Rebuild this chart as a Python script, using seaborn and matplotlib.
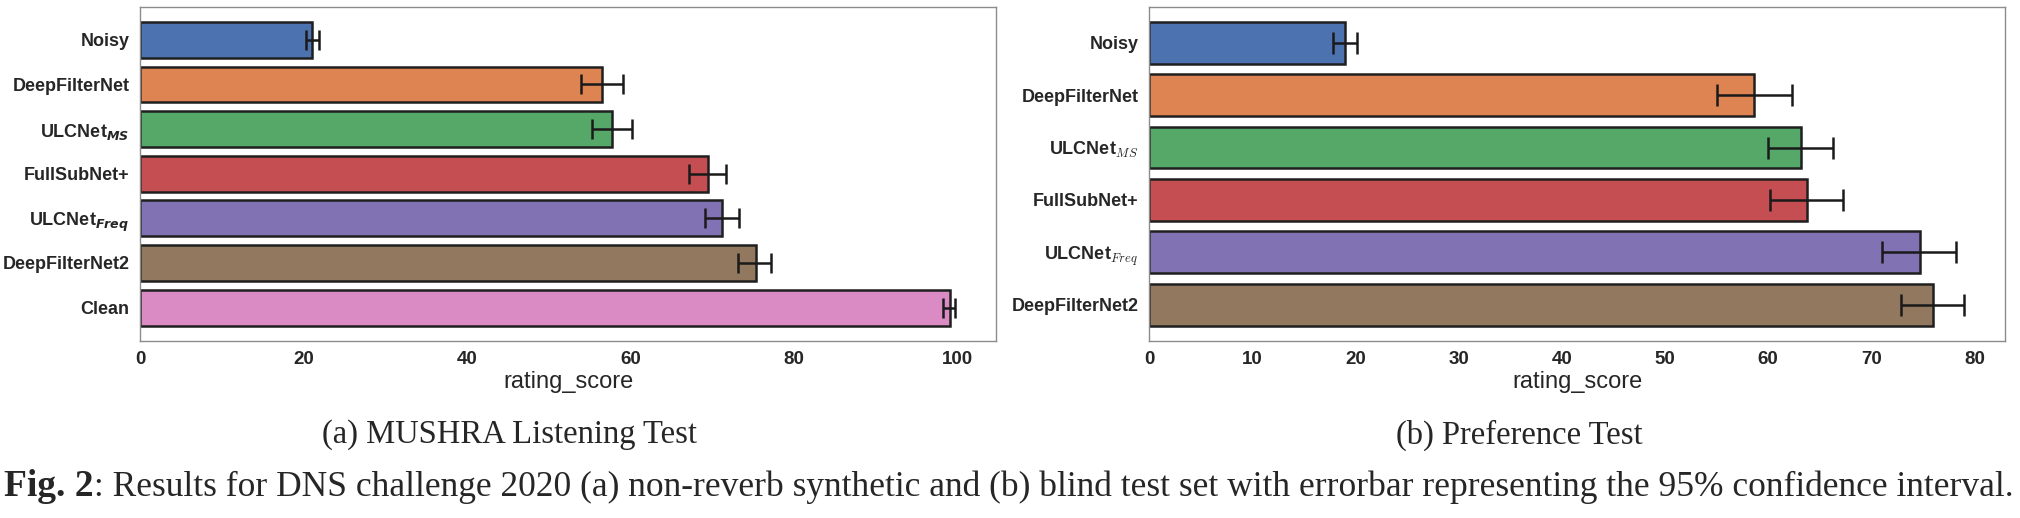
import numpy as np
import pandas as pd
import matplotlib
matplotlib.use("Agg")
import matplotlib.pyplot as plt
import seaborn as sns

# MUSHRA listening test (a)
mushra_systems = ["Noisy", "DeepFilterNet", r"ULCNet$_{\mathbfit{MS}}$", "FullSubNet+",
                  r"ULCNet$_{\mathbfit{Freq}}$", "DeepFilterNet2", "Clean"]
mushra_mean = [21.0, 56.5, 57.7, 69.4, 71.2, 75.3, 99.0]
mushra_lo = [20.3, 53.9, 55.3, 67.1, 69.1, 73.1, 98.2]
mushra_hi = [21.9, 59.1, 60.2, 71.7, 73.2, 77.2, 99.7]

# Preference test (b)
pref_systems = ["Noisy", "DeepFilterNet", r"ULCNet$_{MS}$", "FullSubNet+",
                r"ULCNet$_{Freq}$", "DeepFilterNet2"]
pref_mean = [18.95, 58.6, 63.2, 63.8, 74.7, 76.0]
pref_lo = [17.8, 55.0, 60.0, 60.2, 71.0, 72.9]
pref_hi = [20.2, 62.3, 66.3, 67.2, 78.2, 79.0]

sub_titles = ["(a) MUSHRA Listening Test", "(b) Preference Test"]
fig_label = "Fig. 2"
fig_caption = (": Results for DNS challenge 2020 (a) non-reverb synthetic and (b) blind test set "
               "with errorbar representing the 95% confidence interval.")

sns.set_style("white")
plt.rcParams["font.family"] = ["Liberation Sans", "DejaVu Sans"]
plt.rcParams["mathtext.fontset"] = "dejavusans"

fig = plt.figure(figsize=(20.2, 5.18), dpi=100)
ax_a = fig.add_axes([0.0693, 0.3423, 0.4238, 0.6448])
ax_b = fig.add_axes([0.5688, 0.3423, 0.4238, 0.6448])

panels = [
    (ax_a, mushra_systems, mushra_mean, mushra_lo, mushra_hi, 7, None),
    (ax_b, pref_systems, pref_mean, pref_lo, pref_hi, 8, "cm"),
]

for ax, systems, mean, lo, hi, cap, mathfam in panels:
    df = pd.DataFrame({"system": systems, "rating_score": mean})
    sns.barplot(data=df, x="rating_score", y="system", hue="system",
                palette="deep", saturation=1, legend=False, errorbar=None,
                edgecolor="0.12", linewidth=1.8, ax=ax)
    xerr = [np.array(mean) - np.array(lo), np.array(hi) - np.array(mean)]
    ax.errorbar(mean, np.arange(len(systems)), xerr=xerr, fmt="none",
                ecolor="0.1", elinewidth=1.8, capsize=cap, capthick=1.8)
    ax.set_ylabel("")
    ax.set_xlabel("rating_score", fontsize=17, labelpad=2)
    ax.tick_params(axis="x", labelsize=13.5, pad=4)
    ax.tick_params(axis="y", labelsize=13, pad=4)
    for lab in ax.get_yticklabels() + ax.get_xticklabels():
        lab.set_fontweight("bold")
        if mathfam is not None:
            lab.set_math_fontfamily(mathfam)
    for sp in ax.spines.values():
        sp.set_color("0.55")
        sp.set_linewidth(1.0)

# sub captions
fig.text(509 / 2020, 1 - 435 / 518, sub_titles[0], ha="center", va="center",
         family="Liberation Serif", fontsize=23.5)
fig.text(1519 / 2020, 1 - 435 / 518, sub_titles[1], ha="center", va="center",
         family="Liberation Serif", fontsize=23.5)

# figure caption
t1 = fig.text(4 / 2020, 1 - 486 / 518, fig_label, ha="left", va="center",
              family="Liberation Serif", fontsize=27, fontweight="bold")
ax_a.annotate(fig_caption, xy=(1, 0), xycoords=t1, ha="left", va="bottom",
              family="Liberation Serif", fontsize=25.5, annotation_clip=False)

fig.savefig("out.png", dpi=100)
